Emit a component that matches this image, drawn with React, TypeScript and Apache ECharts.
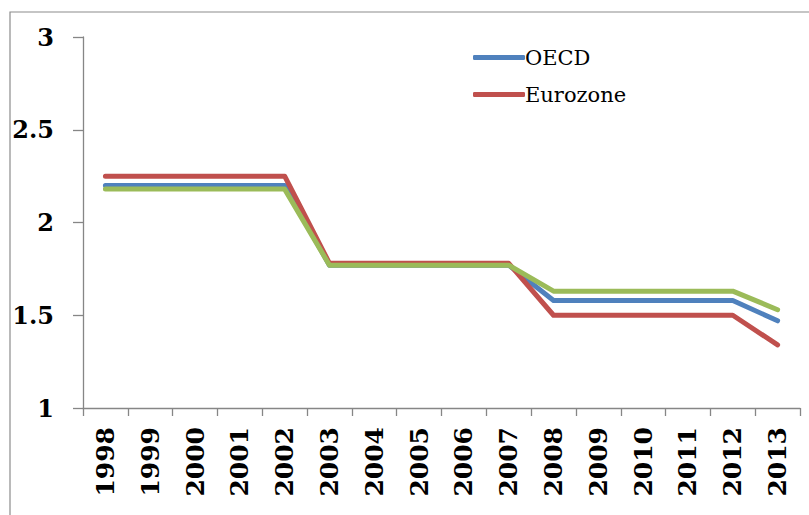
import React, { useEffect, useRef } from "react";
import * as echarts from "echarts";

const years = ["1998","1999","2000","2001","2002","2003","2004","2005","2006","2007","2008","2009","2010","2011","2012","2013"];
const oecd = [2.2,2.2,2.2,2.2,2.2,1.77,1.77,1.77,1.77,1.77,1.58,1.58,1.58,1.58,1.58,1.47];
const eurozone = [2.25,2.25,2.25,2.25,2.25,1.78,1.78,1.78,1.78,1.78,1.5,1.5,1.5,1.5,1.5,1.34];
const other = [2.18,2.18,2.18,2.18,2.18,1.77,1.77,1.77,1.77,1.77,1.63,1.63,1.63,1.63,1.63,1.53];

export default function App() {
  const ref = useRef<HTMLDivElement>(null);
  useEffect(() => {
    if (!ref.current) return;
    const chart = echarts.init(ref.current, null, { renderer: "svg" });
    const axisColor = "#868686";
    const lineSeries = (name: string, data: number[], color: string) => ({
      name,
      type: "line",
      data,
      symbol: "none",
      lineStyle: { color, width: 5, cap: "round", join: "round" },
      itemStyle: { color },
    });
    chart.setOption({
      animation: false,
      backgroundColor: "#ffffff",
      graphic: [
        {
          type: "rect",
          shape: { x: 10, y: 12, width: 820, height: 520 },
          style: { fill: "none", stroke: "#8c8c8c", lineWidth: 1.2 },
          silent: true,
        },
      ],
      grid: { left: 83, right: 9, top: 37, bottom: 107, containLabel: false },
      legend: {
        data: ["OECD", "Eurozone"],
        orient: "vertical",
        left: 468,
        top: 42,
        itemWidth: 52,
        itemHeight: 5,
        itemGap: 16,
        icon: "roundRect",
        textStyle: { fontFamily: "DejaVu Serif", fontSize: 21, color: "#000", padding: [0, 0, 0, -5] },
      },
      xAxis: {
        type: "category",
        data: years,
        boundaryGap: true,
        axisLine: { lineStyle: { color: axisColor, width: 1.3 } },
        axisTick: { show: true, alignWithLabel: false, length: 8, lineStyle: { color: axisColor, width: 1.3 } },
        axisLabel: {
          rotate: 90,
          interval: 0,
          margin: 19,
          fontFamily: "DejaVu Serif",
          fontWeight: "bold",
          fontSize: 25,
          color: "#000",
        },
        splitLine: { show: false },
      },
      yAxis: {
        type: "value",
        min: 1,
        max: 3,
        interval: 0.5,
        axisLine: { show: true, lineStyle: { color: axisColor, width: 1.3 } },
        axisTick: { show: true, length: 10, lineStyle: { color: axisColor, width: 1.3 } },
        axisLabel: {
          margin: 29,
          fontFamily: "DejaVu Serif",
          fontWeight: "bold",
          fontSize: 24,
          color: "#000",
        },
        splitLine: { show: false },
      },
      series: [
        lineSeries("OECD", oecd, "#4F81BD"),
        lineSeries("Eurozone", eurozone, "#C0504D"),
        lineSeries("Other", other, "#9BBB59"),
      ],
    });
    return () => chart.dispose();
  }, []);
  return <div ref={ref} style={{ width: 809, height: 515, position: "absolute", left: 0, top: 0 }} />;
}
